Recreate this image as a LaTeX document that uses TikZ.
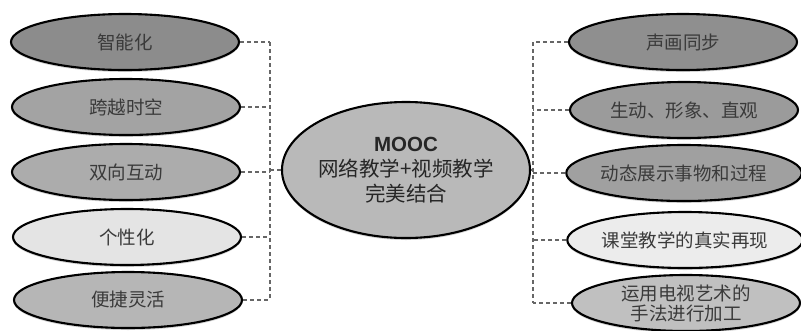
\documentclass[tikz,border=0pt]{standalone}
\usepackage{fontspec}
\newfontfamily\cjk{Noto Sans CJK SC}
\newfontfamily\lsans{Liberation Sans}
\usetikzlibrary{shapes.geometric,shadows}
\definecolor{txt}{HTML}{3A3A3A}
\tikzset{
  oval/.style={ellipse, draw=black, line width=2.1pt, minimum width=228pt, minimum height=56pt,
    inner sep=0pt, font=\cjk\fontsize{18.5}{21}\selectfont, text=txt, align=center,
    drop shadow={shadow xshift=0pt, shadow yshift=-2pt, opacity=0.35}},
  bus/.style={draw=black!60, line width=1.8pt, dash pattern=on 4pt off 3pt},
}
\begin{document}
\begin{tikzpicture}[x=1pt,y=-1pt]
\useasboundingbox (0,0) rectangle (801,330);
% left
\node[oval, fill={rgb,255:red,140;green,140;blue,140}] (l1) at (125,42) {智能化};
\node[oval, fill={rgb,255:red,163;green,163;blue,163}] (l2) at (126,107) {跨越时空};
\node[oval, fill={rgb,255:red,172;green,172;blue,172}] (l3) at (126,172) {双向互动};
\node[oval, fill={rgb,255:red,228;green,228;blue,228}] (l4) at (127,237) {个性化};
\node[oval, fill={rgb,255:red,182;green,182;blue,182}] (l5) at (128,300) {便捷灵活};
% center
\node[ellipse, draw=black, line width=2.1pt, fill={rgb,255:red,185;green,185;blue,185},
  minimum width=208pt, minimum height=136pt, inner sep=0pt, align=center,
  font=\cjk\fontsize{20.5}{25}\selectfont, text=black!85,
  drop shadow={shadow xshift=0pt, shadow yshift=-2pt, opacity=0.35}] (c) at (406,170)
  {{\lsans\bfseries MOOC}\\网络教学+视频教学\\完美结合};
% right
\node[oval, fill={rgb,255:red,143;green,143;blue,143}] (r1) at (683,42) {声画同步};
\node[oval, fill={rgb,255:red,155;green,155;blue,155}] (r2) at (684,110) {生动、形象、直观};
\node[oval, fill={rgb,255:red,160;green,160;blue,160}] (r3) at (684,173) {动态展示事物和过程};
\node[oval, fill={rgb,255:red,236;green,236;blue,236}] (r4) at (685,240) {课堂教学的真实再现};
\node[oval, fill={rgb,255:red,192;green,192;blue,192}, font=\cjk\fontsize{18.5}{20}\selectfont] (r5) at (686,303) {运用电视艺术的\\手法进行加工};
% buses
\coordinate (lbus) at (270,0);
\coordinate (rbus) at (533,0);
\foreach \n in {l1,l2,l3,l4,l5} \draw[bus] (\n.east) -- (\n.east -| lbus);
\draw[bus] (l1.east -| lbus) -- (l5.east -| lbus);
\draw[bus] (c.west) -- (c.west -| lbus);
\foreach \n in {r1,r2,r3,r4,r5} \draw[bus] (\n.west) -- (\n.west -| rbus);
\draw[bus] (r1.west -| rbus) -- (r5.west -| rbus);
\draw[bus] (c.east) -- (c.east -| rbus);
\end{tikzpicture}
\end{document}
